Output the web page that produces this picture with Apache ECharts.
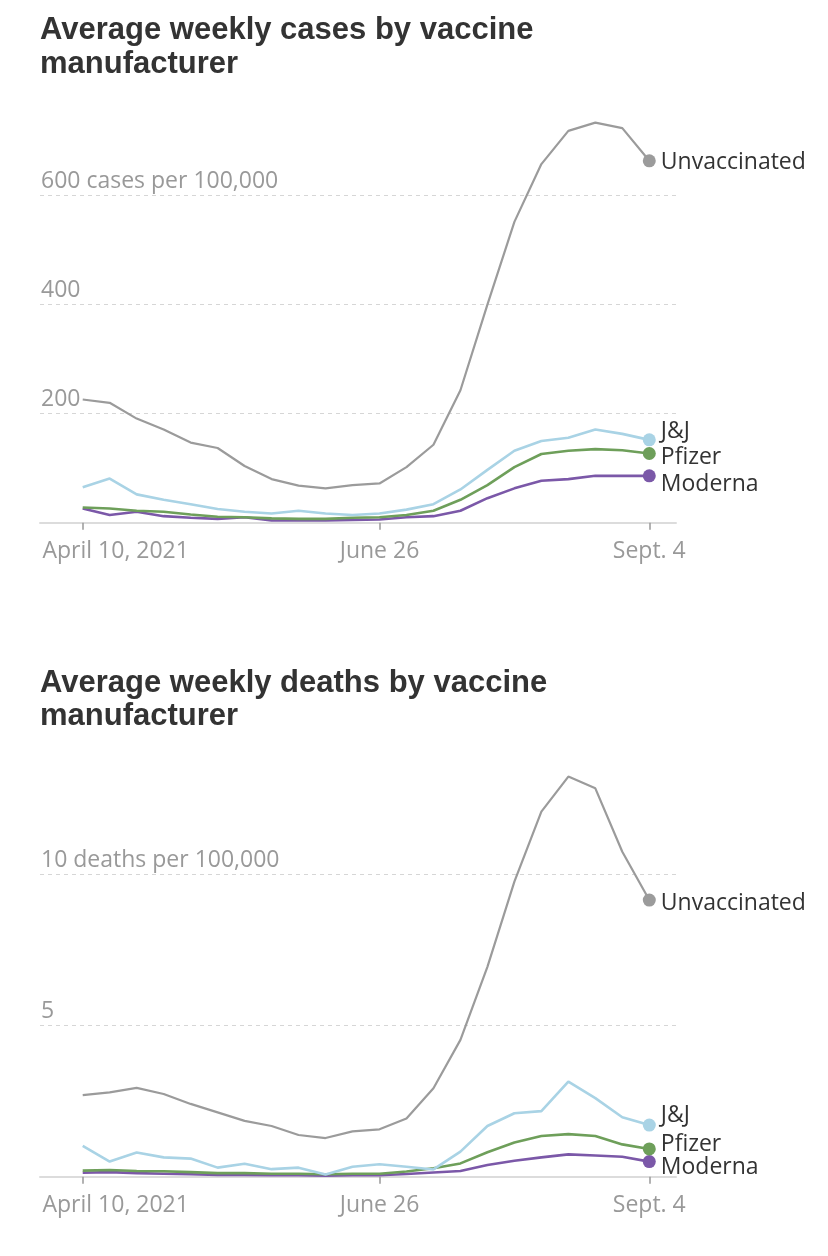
<!DOCTYPE html>
<html>
<head>
<meta charset="utf-8">
<script src="https://cdn.jsdelivr.net/npm/echarts@6/dist/echarts.min.js"></script>
<style>
html,body{margin:0;padding:0;background:#fff;}
#chart{width:828px;height:1256px;}
</style>
</head>
<body>
<div id="chart"></div>
<script>
// Weekly dates (April 10 – Sept. 4, 2021)
const weeks = ['Apr. 10','Apr. 17','Apr. 24','May 1','May 8','May 15','May 22','May 29','June 5','June 12','June 19','June 26','July 3','July 10','July 17','July 24','July 31','Aug. 7','Aug. 14','Aug. 21','Aug. 28','Sept. 4'];
const xTickIndex = [0, 11, 21];
const xTickLabels = ['April 10, 2021', 'June 26', 'Sept. 4'];

const seriesNames = ['Unvaccinated', 'J&J', 'Pfizer', 'Moderna'];

// Average weekly cases per 100,000
const casesUnvaccinated = [226, 220, 191, 171, 147, 137, 104, 80, 68, 63, 69, 72, 102, 143, 243, 400, 552, 658, 719, 734, 724, 664];
const casesJJ          = [65, 81, 52, 42, 34, 25, 20, 17, 22, 17, 14, 17, 24, 34, 61, 97, 132, 150, 156, 171, 163, 152];
const casesPfizer      = [28, 26, 22, 20, 15, 11, 10, 8, 7, 7, 9, 10, 14, 22, 42, 69, 102, 126, 132, 135, 133, 127];
const casesModerna     = [26, 14, 20, 12, 9, 7, 10, 4, 4, 4, 5, 6, 10, 12, 22, 45, 63, 77, 80, 86, 86, 86];

// Average weekly deaths per 100,000
const deathsUnvaccinated = [2.70, 2.79, 2.94, 2.74, 2.41, 2.13, 1.85, 1.68, 1.38, 1.28, 1.50, 1.57, 1.93, 2.93, 4.53, 6.95, 9.77, 12.09, 13.25, 12.86, 10.76, 9.16];
const deathsJJ          = [1.02, 0.50, 0.80, 0.64, 0.60, 0.30, 0.43, 0.25, 0.30, 0.07, 0.33, 0.41, 0.33, 0.24, 0.83, 1.68, 2.10, 2.17, 3.15, 2.60, 1.97, 1.71];
const deathsPfizer      = [0.20, 0.22, 0.19, 0.18, 0.15, 0.12, 0.12, 0.10, 0.10, 0.08, 0.10, 0.10, 0.17, 0.28, 0.44, 0.81, 1.13, 1.35, 1.41, 1.35, 1.07, 0.92];
const deathsModerna     = [0.13, 0.15, 0.12, 0.10, 0.08, 0.06, 0.06, 0.05, 0.05, 0.03, 0.05, 0.05, 0.09, 0.14, 0.19, 0.39, 0.53, 0.64, 0.74, 0.70, 0.66, 0.50];

const casesTicks = [200, 400, 600];
const deathsTicks = [5, 10];

const titles = ['Average weekly cases by vaccine\nmanufacturer', 'Average weekly deaths by vaccine\nmanufacturer'];

// ---- styling ----
const FONT = '"Open Sans", "Liberation Sans", sans-serif';
const TITLE_FONT = '"Liberation Sans", Arial, sans-serif';
const colors = ['#9b9b9b', '#a9d3e5', '#6e9f5a', '#7b58a8'];
const widths = [2.2, 2.6, 2.6, 2.6];
const casesLabelDy = [2, -8, 4, 9];
const deathsLabelDy = [3, -10, -4, 6];

function makeSeries(values, name, idx, axisIdx, dy) {
  const last = values.length - 1;
  return {
    type: 'line',
    name: name,
    xAxisIndex: axisIdx,
    yAxisIndex: axisIdx,
    symbol: 'circle',
    symbolSize: 0,
    showSymbol: true,
    animation: false,
    silent: true,
    lineStyle: { color: colors[idx], width: widths[idx] },
    itemStyle: { color: colors[idx] },
    z: 10 - idx,
    data: values.map((v, i) => i === last ? {
      value: [i, v],
      symbolSize: 13,
      label: {
        show: true, position: 'right', distance: 5, offset: [0, dy],
        formatter: name, color: '#333', fontSize: 23, fontFamily: FONT
      }
    } : [i, v])
  };
}

const xMin = -1.583, xMax = 21.99;
function xAxis(gridIndex) {
  return {
    type: 'value', gridIndex: gridIndex, min: xMin, max: xMax,
    splitLine: { show: false },
    axisLine: { show: true, lineStyle: { color: '#dcdcdc', width: 2 } },
    axisTick: { show: true, customValues: xTickIndex, length: 7, lineStyle: { color: '#999', width: 1.5 } },
    axisLabel: {
      show: true, customValues: xTickIndex, margin: 17,
      color: '#999', fontSize: 23, fontFamily: FONT,
      formatter: function (v) {
        const k = xTickIndex.indexOf(Math.round(v));
        if (k === 0) return '{first|' + xTickLabels[0] + '}';
        return k >= 0 ? xTickLabels[k] : '';
      },
      rich: { first: { padding: [0, 0, 0, 66], color: '#999', fontSize: 23, fontFamily: FONT } }
    }
  };
}
function yAxis(gridIndex, max, ticks, unit) {
  const top = ticks[ticks.length - 1];
  return {
    type: 'value', gridIndex: gridIndex, min: 0, max: max,
    axisLine: { show: false },
    axisTick: { show: false, customValues: ticks },
    splitLine: { show: true, lineStyle: { color: '#d6d6d6', type: [4, 4], width: 1 } },
    axisLabel: {
      show: true, customValues: ticks, inside: true, margin: 1,
      align: 'left', verticalAlign: 'bottom', lineHeight: 29,
      color: '#999', fontSize: 23, fontFamily: FONT,
      formatter: function (v) { return v === top ? v + ' ' + unit : String(v); }
    }
  };
}

const chart = echarts.init(document.getElementById('chart'), null, { renderer: 'canvas' });
const casesData = [casesUnvaccinated, casesJJ, casesPfizer, casesModerna];
const deathsData = [deathsUnvaccinated, deathsJJ, deathsPfizer, deathsModerna];
const series = [];
casesData.forEach((d, i) => series.push(makeSeries(d, seriesNames[i], i, 0, casesLabelDy[i])));
deathsData.forEach((d, i) => series.push(makeSeries(d, seriesNames[i], i, 1, deathsLabelDy[i])));

chart.setOption({
  animation: false,
  backgroundColor: '#fff',
  title: [
    { text: titles[0], left: 35, top: 8, textStyle: { color: '#333', fontSize: 31, fontWeight: 'bold', lineHeight: 34, fontFamily: TITLE_FONT } },
    { text: titles[1], left: 35, top: 662, textStyle: { color: '#333', fontSize: 31, fontWeight: 'bold', lineHeight: 33, fontFamily: TITLE_FONT } }
  ],
  grid: [
    { left: 40, right: 152, top: 97.6, bottom: 733.3 },
    { left: 40, right: 152, top: 753.9, bottom: 79.3 }
  ],
  xAxis: [xAxis(0), xAxis(1)],
  yAxis: [yAxis(0, 780, casesTicks, 'cases per 100,000'), yAxis(1, 14, deathsTicks, 'deaths per 100,000')],
  series: series
});
</script>
</body>
</html>
